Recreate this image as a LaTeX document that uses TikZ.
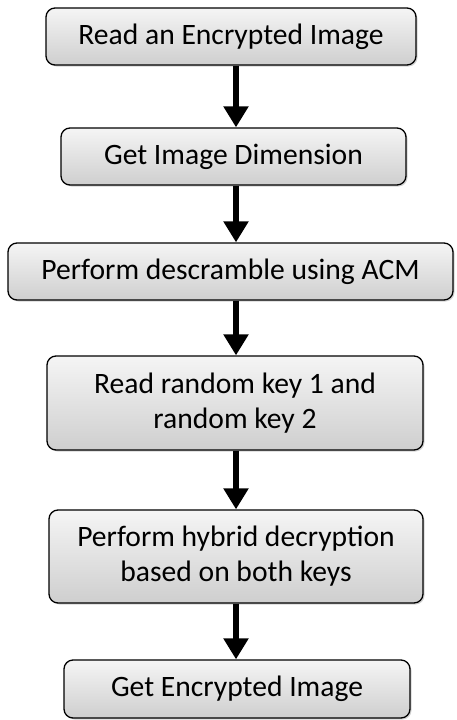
\documentclass[tikz,border=0pt]{standalone}
\usepackage{fontspec}
\setmainfont{Carlito}
\usetikzlibrary{arrows.meta,shadows}
\tikzset{
  stepbox/.style={draw=black, line width=1.3pt, rounded corners=9pt,
    top color=gray!8, bottom color=gray!38, align=center,
    inner sep=0pt, font=\fontsize{29.6}{35}\selectfont,
    drop shadow={opacity=0.35, shadow xshift=1.5pt, shadow yshift=-1.5pt}},
  flow/.style={line width=5.5pt, -{Triangle[width=24pt,length=21pt]}}
}
\begin{document}
\begin{tikzpicture}[x=1pt,y=-1pt]
  \useasboundingbox (0,0) rectangle (457,720);
  \node[stepbox, minimum width=370pt, minimum height=57pt] (b1) at (231,36.5) {Read an Encrypted Image};
  \node[stepbox, minimum width=345pt, minimum height=57pt] (b2) at (233.5,156.5) {Get Image Dimension};
  \node[stepbox, minimum width=445pt, minimum height=57pt] (b3) at (230.5,271.5) {Perform descramble using ACM};
  \node[stepbox, minimum width=376pt, minimum height=94pt] (b4) at (235,403) {Read random key 1 and\\random key 2};
  \node[stepbox, minimum width=374pt, minimum height=93pt] (b5) at (236,556.5) {Perform hybrid decryption\\based on both keys};
  \node[stepbox, minimum width=346pt, minimum height=58pt] (b6) at (237,689) {Get Encrypted Image};
  \coordinate (ax) at (236,0);
  \draw[flow] (b1.south -| ax) -- (b2.north -| ax);
  \draw[flow] (b2.south -| ax) -- (b3.north -| ax);
  \draw[flow] (b3.south -| ax) -- (b4.north -| ax);
  \draw[flow] (b4.south -| ax) -- (b5.north -| ax);
  \draw[flow] (b5.south -| ax) -- (b6.north -| ax);
\end{tikzpicture}
\end{document}
